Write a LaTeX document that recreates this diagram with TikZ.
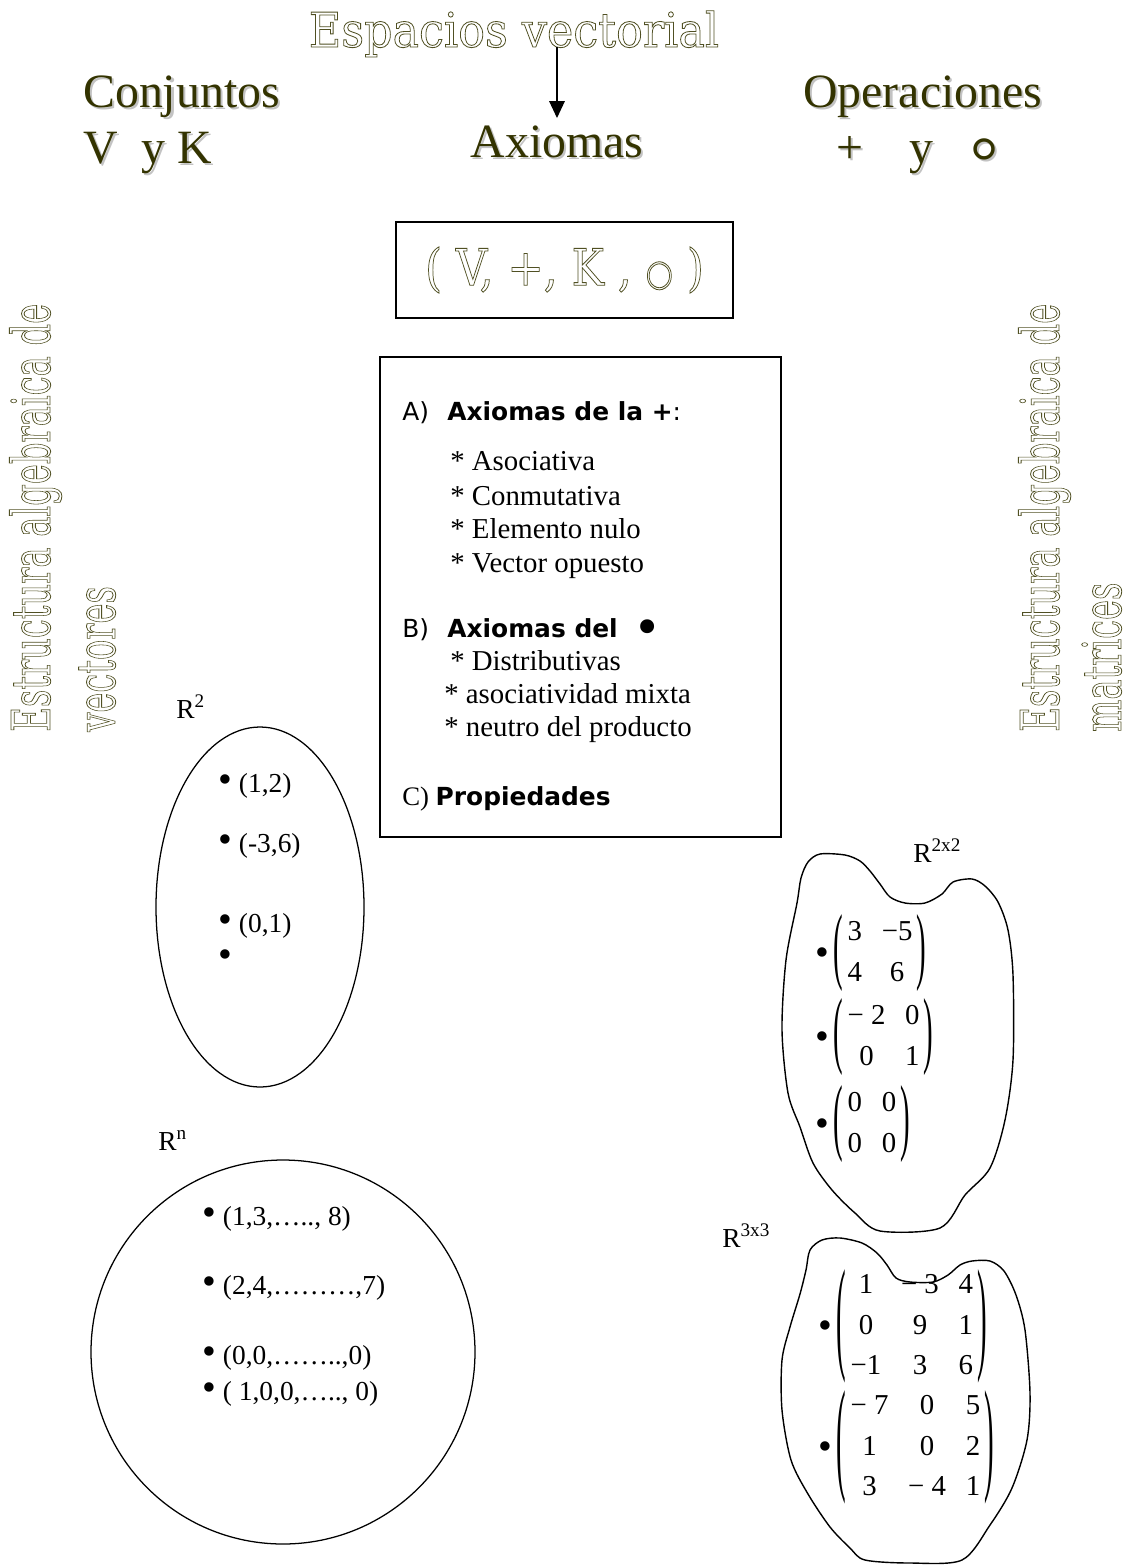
\documentclass[tikz,border=0pt]{standalone}
\usepackage{fontspec}
\usepackage{graphicx}
\usetikzlibrary{arrows.meta}
\setmainfont{Liberation Serif}
\newfontfamily\sansf{DejaVu Sans}
\newfontfamily\perfilf{DejaVu Serif}
\definecolor{oliva}{RGB}{51,51,0}
\definecolor{trazo}{RGB}{80,80,35}
\definecolor{grissombra}{RGB}{195,195,195}
% texto hueco (solo contorno)
\newcommand\perfil[2]{\scalebox{#1}[1]{\special{pdf:literal direct 1 Tr 0.6 w}#2\special{pdf:literal direct 0 Tr}}}
% texto con sombra
\newcommand\sombra[1]{\rlap{\kern1.5pt\raisebox{-1.5pt}{\color{grissombra}#1}}#1}
% punto grande
\newcommand\bola{{\fontsize{28}{28}\selectfont •}}
% matriz: escala del parentesis, columnas, filas
\newcommand\matriz[3]{$\vcenter{\hbox{\scalebox{1}[#1]{(}}}%
  \vcenter{\hbox{\setlength\tabcolsep{7pt}\renewcommand\arraystretch{1.2}%
  \begin{tabular}{@{\hspace{3pt}}#2@{\hspace{3pt}}}#3\end{tabular}}}%
  \vcenter{\hbox{\scalebox{1}[#1]{)}}}$}

\begin{document}
\begin{tikzpicture}[x=0.025cm, y=-0.025cm,
    cab/.style={inner sep=0, text=oliva, font=\fontsize{34}{40}\selectfont},
    hueco/.style={inner sep=0, text=trazo, font=\perfilf\fontsize{38}{44}\selectfont},
    sans/.style={inner sep=0, anchor=base west, font=\sansf\fontsize{17.7}{21}\selectfont},
    item/.style={inner sep=0, anchor=base west, font=\fontsize{20.5}{24}\selectfont},
    punto/.style={inner sep=0, anchor=base west, font=\fontsize{19.5}{23}\selectfont},
    mat/.style={inner sep=0, anchor=west, font=\fontsize{20.5}{24}\selectfont},
    caja/.style={draw, line width=1.4pt},
    conj/.style={line width=0.9pt}]
    \useasboundingbox (0,0) rectangle (1131,1566);

    % Título y encabezados
    \node[hueco, font=\perfilf\fontsize{34}{40}\selectfont, anchor=base] (titulo) at (514,47) {\perfil{0.93}{Espacios vectorial}};
    \node[cab, anchor=base] (axiomas) at (557,157) {\sombra{Axiomas}};
    \draw[-{Triangle[length=12pt, width=11pt]}, line width=1pt, shorten >=5pt] (titulo.base -| axiomas.north) -- (axiomas.north);

    \node[cab, anchor=base west] (conj) at (83,107) {\sombra{Conjuntos}};
    \node[cab, anchor=base west] (vyk) at (83,163) {\sombra{V\ \ y K}};
    \node[cab, anchor=base west] (oper) at (803,107) {\sombra{Operaciones}};
    \node[cab, anchor=base west] (ops) at (836,163) {\sombra{+\hspace{33pt}y\hspace{26pt}\raisebox{-16pt}{\fontsize{50}{50}\selectfont °}}};

    % Terna
    \node[caja, hueco, font=\perfilf\fontsize{36}{40}\selectfont, minimum width=8.425cm, minimum height=2.4cm] (tupla) at (564.5,270)
        {\perfil{0.86}{( V, +, K , {\sansf\fontsize{26}{26}\selectfont ○} )}};

    % Textos verticales
    \node[hueco, rotate=90, anchor=base west] (izq1) at (50,732) {\perfil{0.633}{Estructura algebraica de}};
    \node[hueco, rotate=90, anchor=base west] (izq2) at (115,732) {\perfil{0.633}{vectores}};
    \node[hueco, rotate=90, anchor=base west] (der1) at (1059,732) {\perfil{0.633}{Estructura algebraica de}};
    \node[hueco, rotate=90, anchor=base west] (der2) at (1121,732) {\perfil{0.633}{matrices}};

    % Cuadro de axiomas
    \draw[caja] (380,357) rectangle (781,837);
    \node[sans] (axa) at (402,420) {A)\hspace{13pt}\textbf{Axiomas de la +}:};
    \node[item] (asoc) at (450,470) {* Asociativa};
    \node[item] (conm) at (450,505) {* Conmutativa};
    \node[item] (nulo) at (450,538) {* Elemento nulo};
    \node[item] (opue) at (450,572) {* Vector opuesto};
    \node[sans] (axb) at (402,637) {B)\hspace{13pt}\textbf{Axiomas del}\hspace{11pt}\raisebox{-5pt}{\fontsize{34}{34}\selectfont •}};
    \node[item] (dist) at (450,670) {* Distributivas};
    \node[item] (mixta) at (444,703) {* asociatividad mixta};
    \node[item] (neutro) at (444,736) {* neutro del producto};
    \node[anchor=base west, inner sep=0, font=\fontsize{19}{22}\selectfont] (axc) at (402,805) {C) {\sansf\bfseries\fontsize{17.7}{21}\selectfont Propiedades}};

    % R^2
    \draw[conj] (260,907) ellipse [x radius=104, y radius=180];
    \node[punto] (rdos) at (176,718) {R\textsuperscript{2}};
    \node[punto] (v1) at (218,792) {\bola\ (1,2)};
    \node[punto] (v2) at (218,852) {\bola\ (-3,6)};
    \node[punto] (v3) at (218,932) {\bola\ (0,1)};
    \node[punto] (v4) at (218,967) {\bola};

    % R^n
    \draw[conj] (283,1352) circle [radius=192];
    \node[punto] (rn) at (158,1150) {R\textsuperscript{n}};
    \node[punto] (w1) at (202,1225) {\bola\ (1,3,….., 8)};
    \node[punto] (w2) at (202,1294) {\bola\ (2,4,………,7)};
    \node[punto] (w3) at (202,1364) {\bola\ (0,0,……..,0)};
    \node[punto] (w4) at (202,1400) {\bola\ ( 1,0,0,….., 0)};

    % R^{2x2}
    \draw[conj, line width=1pt] plot[smooth cycle, tension=0.5] coordinates {
        (782,1030) (786,960) (797,903) (801,878) (808,862) (820,854) (845,855) (860,861)
        (870,871) (880,884) (890,897) (905,903) (925,903) (942,894) (953,882) (972,879)
        (985,886) (998,902) (1008,930) (1013,975) (1013,1060) (1005,1120) (990,1168)
        (965,1195) (940,1228) (880,1231) (855,1213) (832,1190) (813,1163) (800,1127) (788,1093)};
    \node[punto] (rdd) at (913,862) {R\textsuperscript{2x2}};
    \node[mat] (ma) at (815,953) {\raisebox{-3.5pt}{\bola}\,\matriz{2.95}{cc}{3 & −5\\ 4 & 6}};
    \node[mat] (mb) at (815,1037) {\raisebox{-3.5pt}{\bola}\,\matriz{2.95}{cc}{− 2 & 0\\ 0 & 1}};
    \node[mat] (mc) at (815,1124) {\raisebox{-3.5pt}{\bola}\,\matriz{2.95}{cc}{0 & 0\\ 0 & 0}};

    % R^{3x3}
    \draw[conj, line width=1pt] plot[smooth cycle, tension=0.5] coordinates {
        (810,1250) (822,1240) (840,1238) (862,1243) (877,1253) (887,1265) (896,1278) (910,1282)
        (933,1282) (948,1275) (960,1265) (972,1261) (990,1261) (1004,1271) (1016,1295) (1025,1330)
        (1030,1393) (1027,1440) (1012,1488) (990,1525) (962,1560) (910,1563) (865,1560) (850,1548)
        (830,1527) (808,1494) (791,1460) (782,1410) (782,1360) (790,1327) (800,1294) (806,1270)};
    \node[punto] (rtt) at (722,1247) {R\textsuperscript{3x3}};
    \node[mat] (md) at (818,1326) {\raisebox{-3.5pt}{\bola}\,\matriz{4.35}{ccc}{1 & − 3 & 4\\ 0 & 9 & 1\\ −1 & 3 & 6}};
    \node[mat] (me) at (818,1447) {\raisebox{-3.5pt}{\bola}\,\matriz{4.35}{ccc}{− 7 & 0 & 5\\ 1 & 0 & 2\\ 3 & − 4 & 1}};
\end{tikzpicture}
\end{document}
